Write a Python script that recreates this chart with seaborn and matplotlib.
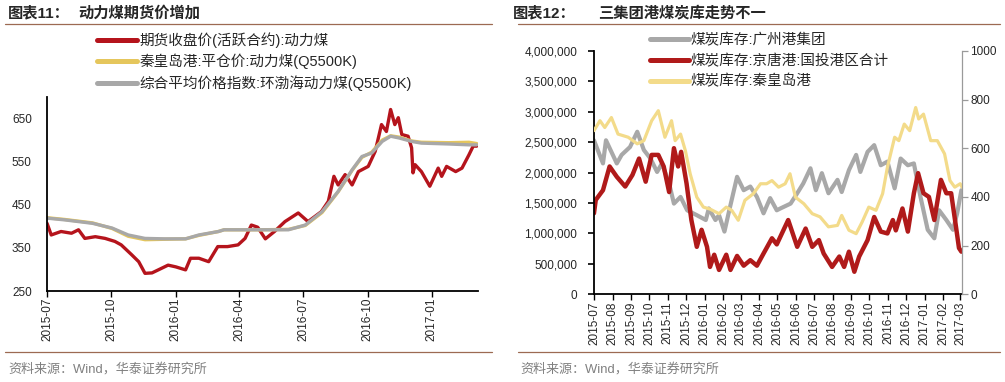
import pandas as pd
import seaborn as sns
import matplotlib
matplotlib.use('Agg')
import matplotlib.pyplot as plt
import matplotlib.dates as mdates
from matplotlib.ticker import FuncFormatter

# ---- 图表11 data ----
fut_dates = ['2015-07-01', '2015-07-07', '2015-07-21', '2015-08-05', '2015-08-15', '2015-08-24',
             '2015-09-08', '2015-09-22', '2015-10-06', '2015-10-15', '2015-10-30', '2015-11-09',
             '2015-11-18', '2015-11-28', '2015-12-07', '2015-12-21', '2016-01-01', '2016-01-15',
             '2016-01-22', '2016-02-03', '2016-02-17', '2016-03-01', '2016-03-15', '2016-03-30',
             '2016-04-09', '2016-04-18', '2016-04-27', '2016-05-08', '2016-05-21', '2016-06-05',
             '2016-06-24', '2016-07-08', '2016-07-27', '2016-08-06', '2016-08-14', '2016-08-20',
             '2016-08-30', '2016-09-09', '2016-09-18', '2016-10-02', '2016-10-12', '2016-10-21',
             '2016-10-28', '2016-11-03', '2016-11-09', '2016-11-14', '2016-11-19', '2016-11-28',
             '2016-12-03', '2016-12-05', '2016-12-08', '2016-12-17', '2016-12-29', '2017-01-10',
             '2017-01-15', '2017-01-22', '2017-02-04', '2017-02-13', '2017-02-23', '2017-03-01',
             '2017-03-06']
fut_price = [407, 380, 388, 384, 392, 372,
             376, 372, 365, 357, 334, 318,
             291, 292, 299, 310, 306, 299,
             326, 326, 318, 353, 353, 357,
             372, 403, 398, 371, 388, 411,
             431, 411, 434, 458, 516, 496,
             520, 496, 527, 539, 574, 636,
             620, 671, 636, 652, 613, 609,
             582, 524, 543, 527, 493, 535,
             516, 539, 527, 535, 566, 586,
             586]

idx_dates = ['2015-07-01', '2015-07-26', '2015-09-04', '2015-10-02', '2015-10-25', '2015-11-18',
             '2015-12-16', '2016-01-15', '2016-02-03', '2016-03-02', '2016-03-10', '2016-04-09',
             '2016-05-02', '2016-06-10', '2016-07-04', '2016-07-28', '2016-08-20', '2016-09-09',
             '2016-09-23', '2016-10-07', '2016-10-22', '2016-11-03', '2016-11-15', '2016-12-03',
             '2016-12-17', '2017-01-25', '2017-02-23', '2017-03-06']
qhd_price = [420, 416, 408, 395, 377, 369,
             370, 371, 379, 388, 392, 392,
             392, 393, 402, 432, 480, 530,
             560, 572, 600, 610, 607, 598,
             595, 594, 595, 592]
bohai_index = [419, 415, 407, 396, 380, 372,
               371, 371, 380, 388, 392, 392,
               392, 392, 403, 434, 481, 531,
               562, 570, 597, 609, 605, 597,
               593, 591, 589, 589]

# ---- 图表12 data ----
jt_dates = ['2015-07-01', '2015-07-04', '2015-07-16', '2015-07-27', '2015-08-08', '2015-08-22',
            '2015-09-03', '2015-09-14', '2015-09-25', '2015-10-05', '2015-10-16', '2015-10-25',
            '2015-11-03', '2015-11-11', '2015-11-18', '2015-11-23', '2015-12-02', '2015-12-10',
            '2015-12-19', '2015-12-27', '2016-01-05', '2016-01-10', '2016-01-17', '2016-01-25',
            '2016-02-06', '2016-02-13', '2016-02-24', '2016-03-06', '2016-03-17', '2016-03-28',
            '2016-04-08', '2016-04-22', '2016-04-30', '2016-05-19', '2016-06-03', '2016-06-17',
            '2016-06-28', '2016-07-09', '2016-07-17', '2016-07-31', '2016-08-12', '2016-08-20',
            '2016-08-28', '2016-09-06', '2016-09-14', '2016-09-28', '2016-10-09', '2016-10-20',
            '2016-10-31', '2016-11-09', '2016-11-14', '2016-11-25', '2016-12-04', '2016-12-14',
            '2016-12-21', '2016-12-30', '2017-01-08', '2017-01-17', '2017-01-28', '2017-02-06',
            '2017-02-14', '2017-02-22', '2017-02-27', '2017-03-03']
jt_stock = [1330000, 1550000, 1710000, 2100000, 1930000, 1770000,
            1960000, 2230000, 1850000, 2290000, 2290000, 2100000,
            1680000, 2400000, 2100000, 2340000, 1820000, 1220000,
            780000, 1060000, 780000, 450000, 650000, 400000,
            650000, 400000, 630000, 470000, 560000, 470000,
            670000, 920000, 820000, 1220000, 780000, 1080000,
            780000, 890000, 670000, 450000, 620000, 450000,
            700000, 370000, 620000, 890000, 1270000, 1030000,
            1000000, 1220000, 1050000, 1410000, 1030000, 1660000,
            1990000, 1660000, 1600000, 1220000, 1880000, 1660000,
            1660000, 1110000, 760000, 700000]

gz_dates = ['2015-07-01', '2015-07-16', '2015-07-21', '2015-08-08', '2015-08-16', '2015-08-30',
            '2015-09-11', '2015-09-22', '2015-10-03', '2015-10-14', '2015-10-22', '2015-11-03',
            '2015-11-11', '2015-11-22', '2015-12-03', '2015-12-19', '2016-01-03', '2016-01-08',
            '2016-01-19', '2016-01-25', '2016-02-03', '2016-02-11', '2016-02-24', '2016-03-06',
            '2016-03-17', '2016-03-28', '2016-04-08', '2016-04-19', '2016-04-30', '2016-05-06',
            '2016-05-23', '2016-06-03', '2016-06-13', '2016-06-25', '2016-07-04', '2016-07-14',
            '2016-07-25', '2016-08-09', '2016-08-16', '2016-08-28', '2016-09-09', '2016-09-16',
            '2016-09-28', '2016-10-09', '2016-10-20', '2016-10-31', '2016-11-12', '2016-11-22',
            '2016-12-04', '2016-12-14', '2016-12-25', '2017-01-06', '2017-01-17', '2017-01-25',
            '2017-02-06', '2017-02-17', '2017-02-24', '2017-03-03']
gz_stock = [2530000, 2150000, 2530000, 2150000, 2290000, 2420000,
            2670000, 2370000, 2230000, 2010000, 2150000, 1820000,
            1490000, 1600000, 1380000, 1300000, 1220000, 1410000,
            1220000, 1300000, 1030000, 1380000, 1930000, 1710000,
            1770000, 1600000, 1330000, 1580000, 1380000, 1410000,
            1490000, 1660000, 1820000, 2070000, 1710000, 1990000,
            1660000, 1880000, 1680000, 2040000, 2290000, 2010000,
            2340000, 2450000, 2120000, 2180000, 1740000, 2230000,
            2120000, 2150000, 1600000, 1060000, 920000, 1380000,
            1220000, 1060000, 1330000, 1710000]

qhd_dates = ['2015-07-01', '2015-07-11', '2015-07-19', '2015-07-30', '2015-08-10', '2015-08-27',
             '2015-09-11', '2015-09-22', '2015-10-05', '2015-10-16', '2015-10-27', '2015-11-07',
             '2015-11-13', '2015-11-22', '2015-11-30', '2015-12-08', '2015-12-19', '2015-12-30',
             '2016-01-10', '2016-01-25', '2016-02-06', '2016-02-15', '2016-02-26', '2016-03-08',
             '2016-03-22', '2016-04-03', '2016-04-13', '2016-04-22', '2016-05-03', '2016-05-14',
             '2016-05-22', '2016-05-31', '2016-06-14', '2016-06-28', '2016-07-11', '2016-07-25',
             '2016-08-09', '2016-08-16', '2016-08-28', '2016-09-09', '2016-09-19', '2016-09-30',
             '2016-10-12', '2016-10-23', '2016-10-31', '2016-11-12', '2016-11-19', '2016-11-28',
             '2016-12-07', '2016-12-17', '2016-12-22', '2016-12-30', '2017-01-11', '2017-01-22',
             '2017-02-03', '2017-02-12', '2017-02-20', '2017-03-01', '2017-03-04']
qhd_stock = [672, 713, 685, 726, 658, 645,
             618, 631, 713, 754, 645, 713,
             631, 658, 590, 495, 399, 358,
             350, 331, 358, 345, 304, 386,
             413, 454, 454, 467, 440, 454,
             495, 399, 372, 331, 318, 277,
             283, 324, 263, 249, 297, 358,
             345, 413, 522, 645, 631, 699,
             672, 767, 720, 740, 631, 631,
             577, 467, 440, 454, 440]

RED = '#B5141C'
GRAY = '#A8A8A8'
BROWN = '#9C6A52'

sns.set_theme(style='white')
plt.rcParams['font.family'] = ['Liberation Sans', 'Noto Sans CJK SC']
plt.rcParams['axes.unicode_minus'] = False

fig = plt.figure(figsize=(10.05, 3.82), dpi=100)

# ---------- left chart ----------
ax1 = fig.add_axes([0.0468, 0.2382, 0.4289, 0.5079])
sns.lineplot(x=pd.to_datetime(fut_dates), y=fut_price, ax=ax1, color=RED, lw=2.4,
             label='期货收盘价(活跃合约):动力煤')
sns.lineplot(x=pd.to_datetime(idx_dates), y=qhd_price, ax=ax1, color='#E5C65C', lw=2.4,
             label='秦皇岛港:平仓价:动力煤(Q5500K)')
sns.lineplot(x=pd.to_datetime(idx_dates), y=bohai_index, ax=ax1, color=GRAY, lw=2.4,
             label='综合平均价格指数:环渤海动力煤(Q5500K)')
ax1.set_ylim(250, 700)
ax1.set_yticks([250, 350, 450, 550, 650])
ax1.set_xlim(pd.Timestamp('2015-07-01'), pd.Timestamp('2017-03-08'))
ax1.xaxis.set_major_locator(mdates.MonthLocator(bymonth=[1, 4, 7, 10]))
ax1.xaxis.set_major_formatter(mdates.DateFormatter('%Y-%m'))
for s in ['top', 'right']:
    ax1.spines[s].set_visible(False)
for s in ['left', 'bottom']:
    ax1.spines[s].set_color('black')
    ax1.spines[s].set_linewidth(1.3)
ax1.tick_params(axis='y', length=0, pad=11, labelsize=8.5, labelcolor='#262626')
ax1.tick_params(axis='x', direction='out', length=4, width=1, color='black', pad=1,
                labelsize=8.5, labelrotation=90, bottom=True)
ax1.set_xlabel('')
ax1.set_ylabel('')
leg1 = ax1.legend(loc='upper left', bbox_to_anchor=(97 / 1005, 1 - 32 / 382),
                  bbox_transform=fig.transFigure, frameon=False, fontsize=10.5,
                  handlelength=2.75, handletextpad=0.15, labelspacing=0.42,
                  borderpad=0, borderaxespad=0)
for h in leg1.legend_handles:
    h.set_linewidth(3.6)

# ---------- right chart ----------
ax2 = fig.add_axes([0.591, 0.2296, 0.3662, 0.6374])
sns.lineplot(x=pd.to_datetime(gz_dates), y=gz_stock, ax=ax2, color=GRAY, lw=3.0,
             label='煤炭库存:广州港集团')
sns.lineplot(x=pd.to_datetime(jt_dates), y=jt_stock, ax=ax2, color='#B01A1A', lw=3.2,
             label='煤炭库存:京唐港:国投港区合计')
ax3 = ax2.twinx()
sns.lineplot(x=pd.to_datetime(qhd_dates), y=qhd_stock, ax=ax3, color='#F3DB8A', lw=2.3,
             label='煤炭库存:秦皇岛港')
ax2.set_ylim(0, 4000000)
ax2.set_yticks(range(0, 4000001, 500000))
ax2.yaxis.set_major_formatter(FuncFormatter(lambda v, p: f'{int(v):,}'))
ax3.set_ylim(0, 1000)
ax3.set_yticks([0, 200, 400, 600, 800, 1000])
ax2.set_xlim(pd.Timestamp('2015-07-01'), pd.Timestamp('2017-03-04'))
ax2.xaxis.set_major_locator(mdates.MonthLocator())
ax2.xaxis.set_major_formatter(mdates.DateFormatter('%Y-%m'))
for a in (ax2, ax3):
    a.spines['top'].set_visible(False)
    a.set_xlabel('')
    a.set_ylabel('')
ax2.spines['right'].set_visible(False)
ax3.spines['left'].set_visible(False)
ax3.spines['bottom'].set_visible(False)
ax2.spines['left'].set_color('black')
ax2.spines['left'].set_linewidth(1.3)
ax2.spines['bottom'].set_color('black')
ax2.spines['bottom'].set_linewidth(1.3)
ax3.spines['right'].set_color('#9A9A9A')
ax3.spines['right'].set_linewidth(0.9)
ax2.tick_params(axis='y', direction='out', left=True, length=4, width=1.2, color='black',
                pad=8, labelsize=8.5, labelcolor='#262626')
ax2.tick_params(axis='x', direction='out', bottom=True, length=4, width=1, color='black',
                pad=1, labelsize=8.5, labelrotation=90)
ax3.tick_params(axis='y', direction='out', right=True, length=4, width=0.9, color='#9A9A9A',
                pad=2, labelsize=8.5, labelcolor='#262626')
h2, l2 = ax2.get_legend_handles_labels()
h3, l3 = ax3.get_legend_handles_labels()
ax2.get_legend().remove()
leg2 = ax3.legend(h2 + h3, l2 + l3, loc='upper left', bbox_to_anchor=(650 / 1005, 1 - 33 / 382),
                  bbox_transform=fig.transFigure, frameon=False, fontsize=10.5,
                  handlelength=2.65, handletextpad=0.15, labelspacing=0.45,
                  borderpad=0, borderaxespad=0)
for h in leg2.legend_handles:
    h.set_linewidth(3.6)

# ---------- titles, rules, sources ----------
for x0, x1 in [(5, 492), (518, 1000)]:
    for yy in (24, 352):
        fig.add_artist(plt.Line2D([x0 / 1005, x1 / 1005], [1 - yy / 382, 1 - yy / 382],
                                  transform=fig.transFigure, color=BROWN, lw=0.9))
fig.text(8 / 1005, 1 - 13 / 382, '图表11：', fontsize=11, weight='bold', va='center')
fig.text(78 / 1005, 1 - 13 / 382, '动力煤期货价增加', fontsize=11, weight='bold', va='center')
fig.text(513 / 1005, 1 - 13 / 382, '图表12：', fontsize=11, weight='bold', va='center')
fig.text(598 / 1005, 1 - 13 / 382, '三集团港煤炭库走势不一', fontsize=11, weight='bold', va='center')
fig.text(8 / 1005, 1 - 369 / 382, '资料来源：Wind，华泰证券研究所', fontsize=9.4, color='#808080',
         va='center')
fig.text(520 / 1005, 1 - 369 / 382, '资料来源：Wind，华泰证券研究所', fontsize=9.4, color='#808080',
         va='center')

fig.savefig('out.png', dpi=100)
